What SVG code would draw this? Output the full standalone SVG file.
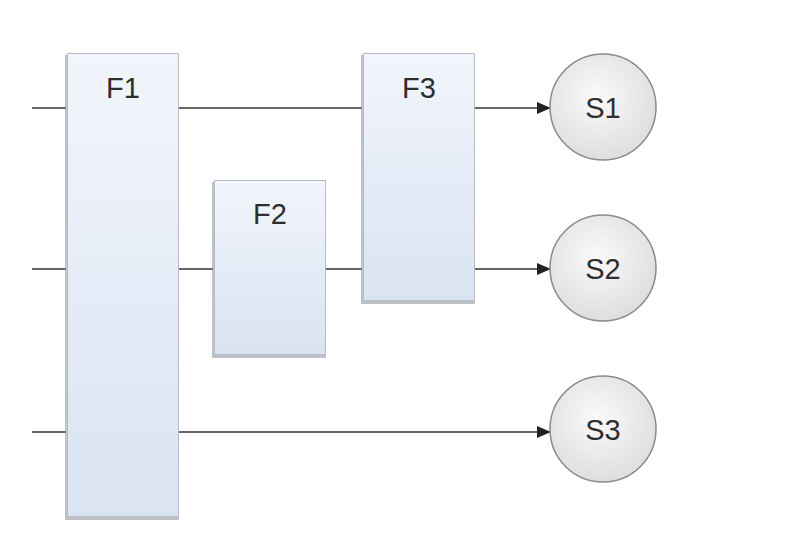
<svg xmlns="http://www.w3.org/2000/svg" width="797" height="541" viewBox="0 0 797 541">
<style>
.box{fill:url(#bg);stroke:#b4bcc8;stroke-width:1}
.sh{fill:#8a8f98;opacity:0.55}
.st{fill:url(#cg);stroke:#8a8a8a;stroke-width:1.5}
.t{font-family:"Liberation Sans",Arial,sans-serif;font-size:29px;fill:#2e2e2e;text-anchor:middle}
.c{stroke:#333;stroke-width:1.5;fill:none}
.a{stroke:#333;stroke-width:1.5;fill:none;marker-end:url(#ah)}
</style>
<defs>
<linearGradient id="bg" x1="0" y1="0" x2="0" y2="1"><stop offset="0" stop-color="#f2f5fb"/><stop offset="1" stop-color="#d9e3f2"/></linearGradient>
<radialGradient id="cg" cx="0.45" cy="0.4" r="0.65"><stop offset="0" stop-color="#fafafa"/><stop offset="1" stop-color="#dcdcdc"/></radialGradient>
<marker id="ah" markerWidth="14" markerHeight="12" refX="13" refY="6" orient="auto" markerUnits="userSpaceOnUse"><path d="M0,0 L14,6 L0,12 Z" fill="#222"/></marker>
</defs>
<g id="connectors">
<line class="c" x1="32" y1="108" x2="66" y2="108"/>
<line class="c" x1="179" y1="108" x2="362" y2="108"/>
<line class="a" x1="475" y1="108" x2="550" y2="108"/>
<line class="c" x1="32" y1="269" x2="66" y2="269"/>
<line class="c" x1="179" y1="269" x2="213" y2="269"/>
<line class="c" x1="325" y1="269" x2="362" y2="269"/>
<line class="a" x1="475" y1="269" x2="550" y2="269"/>
<line class="c" x1="32" y1="432" x2="66" y2="432"/>
<line class="a" x1="179" y1="432" x2="550" y2="432"/>
</g>
<g id="F1">
<rect class="sh" x="65" y="55" width="114" height="465"/>
<rect class="box" x="67.5" y="53.5" width="111" height="463"/>
<text class="t" x="123" y="98">F1</text>
</g>
<g id="F2">
<rect class="sh" x="212" y="182" width="114" height="176"/>
<rect class="box" x="214.5" y="180.5" width="111" height="174"/>
<text class="t" x="270" y="224">F2</text>
</g>
<g id="F3">
<rect class="sh" x="361" y="55" width="114" height="249"/>
<rect class="box" x="363.5" y="53.5" width="111" height="247"/>
<text class="t" x="419" y="98">F3</text>
</g>
<g id="S1">
<circle class="st" cx="603" cy="107" r="53"/>
<text class="t" x="603" y="118">S1</text>
</g>
<g id="S2">
<circle class="st" cx="603" cy="268" r="53"/>
<text class="t" x="603" y="279">S2</text>
</g>
<g id="S3">
<circle class="st" cx="603" cy="429" r="53"/>
<text class="t" x="603" y="440">S3</text>
</g>
</svg>
